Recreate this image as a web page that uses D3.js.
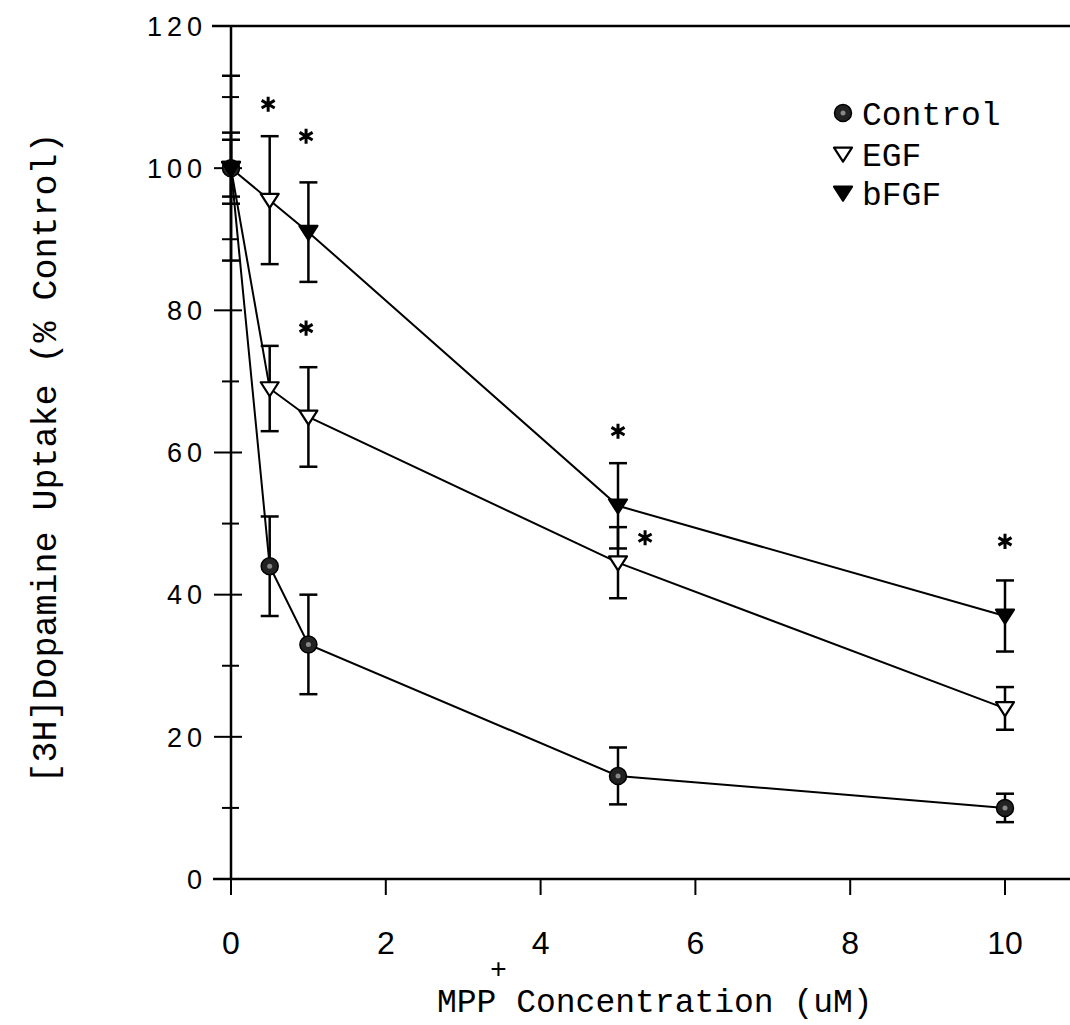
<!DOCTYPE html>
<html>
<head>
    <meta charset="utf-8">
    <title>Dopamine Uptake vs MPP+</title>
    <script src="https://d3js.org/d3.v7.min.js"></script>
    <style>
        body {
            margin: 0;
            background: #fff;
        }

        .mono {
            font-family: "Liberation Mono", "DejaVu Sans Mono", monospace;
            fill: #000;
        }

        .ytick text {
            font-family: "Liberation Sans", Arial, sans-serif;
            font-size: 27px;
            letter-spacing: 5px;
        }

        .xtick text {
            font-family: "Liberation Sans Narrow", "Liberation Sans", Arial, sans-serif;
            font-size: 32px;
        }

        .series-line {
            fill: none;
            stroke: #000;
            stroke-width: 2;
        }

        .err {
            stroke: #000;
            stroke-width: 2.5;
        }
    </style>
</head>
<body>
    <svg id="chart" width="1070" height="1025"></svg>

    <script>
        // MPP+ concentration (uM)
        const conc = [0, 0.5, 1, 5, 10];

        // [3H]dopamine uptake, % of control, with error bar half-widths
        const controlMean = [100, 44, 33, 14.5, 10];
        const controlErr  = [4, 7, 7, 4, 2];
        const egfMean     = [100, 69, 65, 44.5, 24];
        const egfErr      = [5, 6, 7, 5, 3];
        const bfgfMean    = [100, 95.5, 91, 52.5, 37];
        const bfgfErr     = [13, 9, 7, 6, 5];

        // significance marks (x, y)
        const starX = [0.48, 0.97, 0.97, 5, 5.35, 10];
        const starY = [109, 104.5, 77.5, 63, 48, 47.5];

        const yTicks = [0, 20, 40, 60, 80, 100, 120];
        const yMinor = [10, 30, 50, 70, 90, 110];
        const xTicks = [0, 2, 4, 6, 8, 10];

        const seriesNames = ["Control", "EGF", "bFGF"];

        const svg = d3.select("#chart");

        const x = d3.scaleLinear().domain([0, 10]).range([231, 1005]);
        const y = d3.scaleLinear().domain([0, 120]).range([879, 26]);

        // frame: top line and x axis run off the right edge
        svg.append("line")
            .attr("x1", 212).attr("x2", 1070)
            .attr("y1", y(120)).attr("y2", y(120))
            .attr("stroke", "#000").attr("stroke-width", 2.5);

        svg.append("line")
            .attr("x1", 213).attr("x2", 1070)
            .attr("y1", y(0)).attr("y2", y(0))
            .attr("stroke", "#000").attr("stroke-width", 2.5);

        svg.append("line")
            .attr("x1", x(0)).attr("x2", x(0))
            .attr("y1", y(120)).attr("y2", y(0))
            .attr("stroke", "#000").attr("stroke-width", 2.5);

        // y axis ticks cross the axis line
        const yAxis = svg.append("g").attr("class", "ytick");
        yAxis.selectAll("line.major")
            .data(yTicks)
            .join("line")
            .attr("class", "major")
            .attr("x1", x(0) - 17).attr("x2", x(0) + 11)
            .attr("y1", d => y(d)).attr("y2", d => y(d))
            .attr("stroke", "#000").attr("stroke-width", 2);
        yAxis.selectAll("line.minor")
            .data(yMinor)
            .join("line")
            .attr("class", "minor")
            .attr("x1", x(0) - 9).attr("x2", x(0) + 8)
            .attr("y1", d => y(d)).attr("y2", d => y(d))
            .attr("stroke", "#000").attr("stroke-width", 2);
        yAxis.selectAll("text")
            .data(yTicks)
            .join("text")
            .attr("x", 207)
            .attr("y", d => y(d))
            .attr("dy", "0.36em")
            .attr("text-anchor", "end")
            .text(d => d);

        // x axis ticks point down
        const xAxis = svg.append("g").attr("class", "xtick");
        xAxis.selectAll("line")
            .data(xTicks)
            .join("line")
            .attr("x1", d => x(d)).attr("x2", d => x(d))
            .attr("y1", y(0)).attr("y2", y(0) + 16)
            .attr("stroke", "#000").attr("stroke-width", 2);
        xAxis.selectAll("text")
            .data(xTicks)
            .join("text")
            .attr("x", d => x(d))
            .attr("y", 954)
            .attr("text-anchor", "middle")
            .text(d => d);

        // axis titles
        svg.append("text")
            .attr("class", "mono")
            .attr("transform", "translate(56,458) rotate(-90)")
            .attr("text-anchor", "middle")
            .style("font-size", "35px")
            .text("[3H]Dopamine Uptake (% Control)");

        const xTitle = svg.append("text")
            .attr("class", "mono")
            .attr("x", 437)
            .attr("y", 1012)
            .style("font-size", "33px")
            .text("MPP Concentration (uM)");
        const charW = xTitle.node().getComputedTextLength() / "MPP Concentration (uM)".length;
        svg.append("text")
            .attr("class", "mono")
            .attr("x", 437 + charW * 3.1)
            .attr("y", 978)
            .attr("text-anchor", "middle")
            .style("font-size", "28px")
            .text("+");

        // data
        const series = [
            {name: "Control", mean: controlMean, err: controlErr, marker: "circle"},
            {name: "EGF", mean: egfMean, err: egfErr, marker: "open"},
            {name: "bFGF", mean: bfgfMean, err: bfgfErr, marker: "filled"}
        ];
        // the 0.5 uM bFGF point is drawn hollow in the original
        const bfgfOpenIdx = [1];

        const line = d3.line()
            .x((d, i) => x(conc[i]))
            .y(d => y(d));

        series.forEach(s => {
            svg.append("path")
                .datum(s.mean)
                .attr("class", "series-line")
                .attr("d", line);
        });

        // error bars
        series.forEach(s => {
            const g = svg.append("g");
            s.mean.forEach((m, i) => {
                const cx = x(conc[i]);
                g.append("line").attr("class", "err")
                    .attr("x1", cx).attr("x2", cx)
                    .attr("y1", y(m - s.err[i])).attr("y2", y(m + s.err[i]));
                [m - s.err[i], m + s.err[i]].forEach(v => {
                    g.append("line").attr("class", "err")
                        .attr("x1", cx - 9).attr("x2", cx + 9)
                        .attr("y1", y(v)).attr("y2", y(v));
                });
            });
        });

        function triangle(g, cx, cy, open) {
            const w = 9, h = 14;
            g.append("path")
                .attr("d", `M${cx - w},${cy - h * 0.45} L${cx + w},${cy - h * 0.45} L${cx},${cy + h * 0.55} Z`)
                .attr("fill", open ? "#fff" : "#000")
                .attr("stroke", "#000")
                .attr("stroke-width", 2.2)
                .attr("stroke-linejoin", "round");
        }

        function dotCircle(g, cx, cy) {
            g.append("circle")
                .attr("cx", cx).attr("cy", cy).attr("r", 8.5)
                .attr("fill", "#222").attr("stroke", "#000").attr("stroke-width", 1.5);
            g.append("circle")
                .attr("cx", cx).attr("cy", cy).attr("r", 2.5)
                .attr("fill", "#888");
        }

        const markers = svg.append("g");
        series.forEach(s => {
            s.mean.forEach((m, i) => {
                const cx = x(conc[i]), cy = y(m);
                if (s.marker === "circle") dotCircle(markers, cx, cy);
                else if (s.marker === "open") triangle(markers, cx, cy, true);
                else triangle(markers, cx, cy, bfgfOpenIdx.includes(i));
            });
        });

        // asterisks
        const star = d3.symbol().type(d3.symbolAsterisk).size(160);
        svg.selectAll("path.star")
            .data(starX)
            .join("path")
            .attr("class", "star")
            .attr("transform", (d, i) => `translate(${x(d)},${y(starY[i])})`)
            .attr("d", star)
            .attr("fill", "none")
            .attr("stroke", "#000")
            .attr("stroke-width", 3);

        // legend
        const legend = svg.append("g");
        const legY = [113, 154, 193];
        seriesNames.forEach((name, i) => {
            if (i === 0) dotCircle(legend, 843, legY[i]);
            else triangle(legend, 843, legY[i], i === 1);
            legend.append("text")
                .attr("class", "mono")
                .attr("x", 862)
                .attr("y", legY[i])
                .attr("dy", "0.35em")
                .style("font-size", "33px")
                .text(name);
        });
    </script>
</body>
</html>
